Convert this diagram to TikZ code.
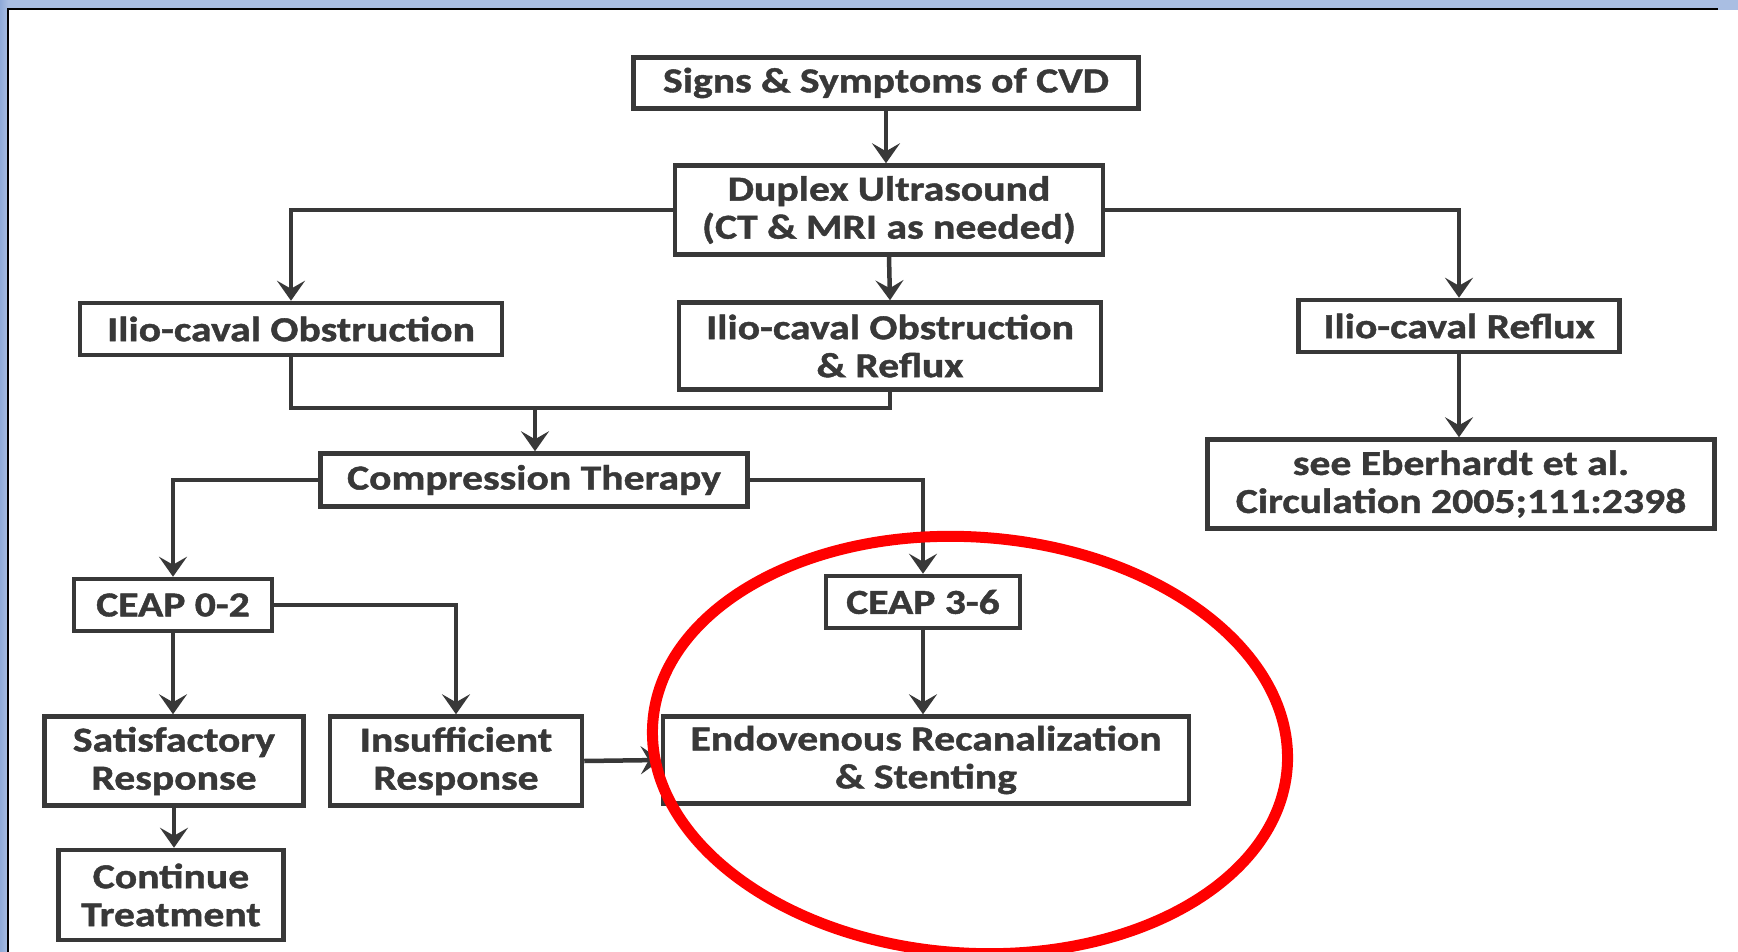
\documentclass[tikz,border=0pt]{standalone}
\usepackage{fontspec}
\newfontfamily\boxfont{Carlito Bold}[FakeStretch=1.19, FakeBold=1.2]
\usetikzlibrary{arrows.meta}
\definecolor{ink}{HTML}{383838}
\definecolor{frameblue}{HTML}{A9BEE2}
\definecolor{frameblue2}{HTML}{8FAAD8}
\definecolor{ringred}{HTML}{FF0000}

\begin{document}
\begin{tikzpicture}[x=1pt,y=-1pt,
  box/.style={draw=ink, line width=4.5pt, fill=white, inner sep=0pt, align=center,
    text=ink, font=\boxfont\fontsize{35}{38}\selectfont},
  link/.style={draw=ink, line width=4.5pt},
  arr/.style={link, -{Stealth[length=20pt,width=28pt,inset=8pt]}}
]
% slide frame
\useasboundingbox (0,0) rectangle (1738,952);
\fill[frameblue] (0,0) rectangle (1738,952);
\shade[left color=frameblue2, right color=frameblue] (0,0) rectangle (8,952);
\fill[white] (9,10) rectangle (1738,952);
\draw[black, line width=2.5pt] (8,952) -- (8,9) -- (1718,9);

% boxes
\node[box, minimum width=505pt, minimum height=51pt] (sig) at (886,83) {Signs \& Symptoms of CVD};
\node[box, minimum width=428pt, minimum height=89pt] (dup) at (889,210) {Duplex Ultrasound\\(CT \& MRI as needed)};
\node[box, minimum width=422pt, minimum height=52pt] (io) at (291,329) {Ilio-caval Obstruction};
\node[box, minimum width=422pt, minimum height=87pt] (ior) at (890,346) {Ilio-caval Obstruction\\\& Reflux};
\node[box, minimum width=321pt, minimum height=52pt] (ir) at (1459,326) {Ilio-caval Reflux};
\node[box, minimum width=507pt, minimum height=89pt] (eb) at (1461,484) {see Eberhardt et al.\\Circulation 2005;111:2398};
\node[box, minimum width=427pt, minimum height=53pt] (ct) at (534,480) {Compression Therapy};
\node[box, minimum width=198pt, minimum height=52pt] (c02) at (173,605) {CEAP 0-2};
\node[box, minimum width=194pt, minimum height=52pt] (c36) at (923,602) {CEAP 3-6};
\node[box, minimum width=259pt, minimum height=89pt] (sr) at (174,761) {Satisfactory\\Response};
\node[box, minimum width=252pt, minimum height=89pt] (inr) at (456,761) {Insufficient\\Response};
\node[box, minimum width=526pt, minimum height=87pt] (en) at (926,760) {Endovenous Recanalization\\\& Stenting};
\node[box, minimum width=225pt, minimum height=90pt] (ctr) at (171,895) {Continue\\Treatment};

% connectors
\coordinate (mj) at (535,408);
\draw[arr] (sig.south) -- (sig.south |- dup.north);
\draw[arr] (dup.west) -| (io.north);
\draw[arr] (dup.east) -| (ir.north);
\draw[arr] (dup.south) -- (ior.north);
\draw[arr] (ir.south) -- (ir.south |- eb.north);
\draw[link] (io.south) -- (io.south |- mj) -- (ior.south |- mj) -- (ior.south);
\draw[arr] (mj) -- (mj |- ct.north);
\draw[arr] (ct.west) -| (c02.north);
\draw[arr] (ct.east) -| (c36.north);
\draw[arr] (c02.east) -| (inr.north);
\draw[arr] (c02.south) -- (c02.south |- sr.north);
\draw[arr] (inr.east) -- (en.west);
\draw[arr] (c36.south) -- (c36.south |- en.north);
\draw[arr] (sr.south) -- (sr.south |- ctr.north);

% highlight ring
\draw[ringred, line width=11pt, rotate around={-4:(970,745)}] (970,745) ellipse [x radius=318, y radius=208];
\end{tikzpicture}
\end{document}
